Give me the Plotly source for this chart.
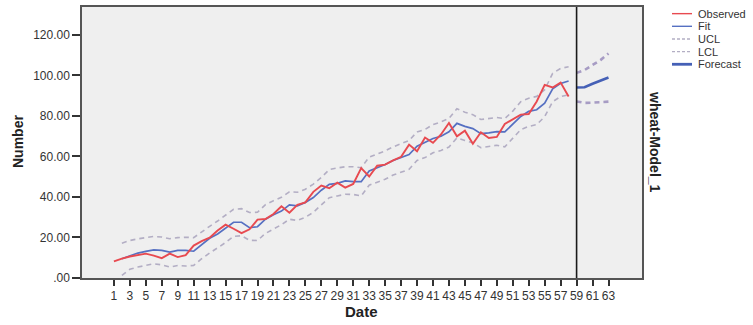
import plotly.graph_objects as go

# ---- data -------------------------------------------------------------
obs_dates = list(range(1, 59))
observed = [8.2, 9.6, 10.6, 11.2, 12.0, 11.0, 9.8, 12.0, 10.3, 11.3,
            16.0, 18.2, 19.9, 23.4, 26.3, 24.3, 22.1, 24.0, 28.8, 29.1,
            31.6, 35.4, 32.2, 36.1, 37.3, 42.5, 45.6, 44.3, 47.0, 44.6,
            46.4, 54.2, 50.1, 55.4, 55.9, 58.0, 59.8, 65.8, 62.5, 69.3,
            66.7, 70.8, 76.5, 69.9, 72.7, 66.2, 71.9, 69.1, 69.6, 76.0,
            78.1, 80.6, 80.9, 87.1, 95.3, 94.0, 96.4, 89.5]

fit_dates = list(range(2, 59))
fit = [9.5, 11.0, 12.3, 13.1, 13.9, 13.6, 12.8, 13.6, 13.6, 13.2,
       16.5, 19.6, 21.7, 24.7, 27.5, 27.5, 24.8, 25.3, 29.0, 31.2,
       33.0, 36.1, 35.6, 37.3, 39.7, 43.3, 46.2, 46.7, 47.9, 47.5,
       47.5, 52.8, 54.4, 56.0, 58.0, 59.3, 60.9, 65.0, 66.7, 68.8,
       69.9, 72.1, 76.3, 74.8, 73.7, 71.2, 71.6, 72.2, 72.1, 75.7,
       79.7, 82.2, 83.0, 86.3, 93.3, 96.0, 97.2]
ucl = [17.2, 18.5, 19.3, 19.9, 20.5, 20.2, 19.4, 19.9, 20.1, 19.9,
       22.8, 25.5, 28.1, 30.8, 33.9, 34.2, 32.3, 32.4, 36.2, 38.1,
       39.8, 42.5, 42.3, 43.8, 46.3, 49.6, 53.5, 54.3, 54.9, 54.9,
       54.4, 59.6, 61.1, 62.7, 64.7, 66.2, 67.8, 72.1, 73.3, 75.7,
       77.0, 78.7, 83.5, 81.8, 80.6, 78.2, 78.7, 79.2, 78.6, 82.3,
       87.0, 88.7, 89.6, 92.9, 101.0, 103.4, 104.2]
lcl = [1.3, 4.3, 5.4, 6.1, 7.0, 6.5, 5.4, 6.2, 5.9, 6.2,
       9.5, 12.3, 14.7, 17.5, 20.6, 20.8, 18.6, 18.5, 22.0, 24.2,
       26.3, 29.0, 28.4, 30.0, 32.4, 36.1, 39.6, 40.5, 41.3, 41.2,
       40.5, 45.8, 47.2, 48.7, 50.8, 52.1, 53.6, 58.0, 59.4, 61.8,
       62.9, 64.6, 69.1, 67.8, 66.7, 64.3, 65.0, 65.5, 64.7, 68.8,
       73.2, 74.8, 75.7, 79.6, 87.0, 89.5, 90.4]

fc_dates = [59, 60, 61, 62, 63]
forecast = [94.0, 94.1, 95.8, 97.3, 98.9]
fc_ucl = [101.2, 102.6, 105.1, 107.5, 110.8]
fc_lcl = [87.1, 86.4, 86.5, 86.6, 87.0]

y_ticks = [0, 20, 40, 60, 80, 100, 120]
y_tick_labels = [".00", "20.00", "40.00", "60.00", "80.00", "100.00", "120.00"]
x_ticks = list(range(1, 64, 2))

# ---- styles -----------------------------------------------------------
RED = "#e84a50"
BLUE = "#5670c2"
FC_BLUE = "#4560b6"
CL_GRAY = "#b3aec4"
FC_CL = "#a79cc4"
FONT = "Liberation Sans, Arial, sans-serif"

W, H = 753, 325
L, R, T, B = 82, 642, 5, 278      # plot box in pixels


def px(xp):
    return (xp - L) / (R - L)


def py(yp):
    return (B - yp) / (B - T)


fig = go.Figure()
fig.add_trace(go.Scatter(x=fit_dates, y=ucl, mode="lines", name="UCL",
                         line=dict(color=CL_GRAY, width=1.6, dash="5px,4px")))
fig.add_trace(go.Scatter(x=fit_dates, y=lcl, mode="lines", name="LCL",
                         line=dict(color=CL_GRAY, width=1.6, dash="5px,4px")))
fig.add_trace(go.Scatter(x=fc_dates, y=fc_ucl, mode="lines", name="UCL",
                         line=dict(color=FC_CL, width=2.6, dash="5px,4px")))
fig.add_trace(go.Scatter(x=fc_dates, y=fc_lcl, mode="lines", name="LCL",
                         line=dict(color=FC_CL, width=2.6, dash="5px,4px")))
fig.add_trace(go.Scatter(x=fit_dates, y=fit, mode="lines", name="Fit",
                         line=dict(color=BLUE, width=1.7)))
fig.add_trace(go.Scatter(x=obs_dates, y=observed, mode="lines", name="Observed",
                         line=dict(color=RED, width=1.9)))
fig.add_trace(go.Scatter(x=fc_dates, y=forecast, mode="lines", name="Forecast",
                         line=dict(color=FC_BLUE, width=2.6)))

# forecast origin marker
fig.add_shape(type="line", xref="x", yref="paper", x0=fc_dates[0], x1=fc_dates[0],
              y0=0, y1=1, line=dict(color="#1a1a1a", width=1.6))

# legend block
legend_items = [
    ("Observed", RED, 1.4, "solid"),
    ("Fit", BLUE, 1.4, "solid"),
    ("UCL", CL_GRAY, 1.4, "3px,2px"),
    ("LCL", CL_GRAY, 1.4, "3px,2px"),
    ("Forecast", FC_BLUE, 2.8, "solid"),
]
annotations = []
for i, (label, color, width, dash) in enumerate(legend_items):
    yy = 11.7 + i * 12.75
    fig.add_shape(type="line", xref="paper", yref="paper",
                  x0=px(672), x1=px(692), y0=py(yy), y1=py(yy),
                  line=dict(color=color, width=width, dash=dash))
    annotations.append(dict(text=label, xref="paper", yref="paper",
                            x=px(696), y=py(yy), xanchor="left", yanchor="middle",
                            showarrow=False, font=dict(size=11, color="#333333")))

annotations.append(dict(text="<b>wheat-Model_1</b>", xref="paper", yref="paper",
                        x=px(655), y=py(141), xanchor="center", yanchor="middle",
                        textangle=90, showarrow=False,
                        font=dict(size=14, color="#222222")))
annotations.append(dict(text="<b>Number</b>", xref="paper", yref="paper",
                        x=px(18), y=py(141), xanchor="center", yanchor="middle",
                        textangle=-90, showarrow=False,
                        font=dict(size=14, color="#222222")))
annotations.append(dict(text="<b>Date</b>", xref="paper", yref="paper",
                        x=px(361), y=py(312), xanchor="center", yanchor="middle",
                        showarrow=False, font=dict(size=15, color="#222222")))

fig.update_layout(
    width=W, height=H,
    margin=dict(l=L, r=W - R, t=T, b=H - B, pad=0),
    paper_bgcolor="white",
    plot_bgcolor="#efefef",
    showlegend=False,
    font=dict(family=FONT, size=12, color="#333333"),
    annotations=annotations,
)
fig.update_xaxes(range=[-3, 67.2], tickmode="array", tickvals=x_ticks,
                 ticks="outside", ticklen=6, tickwidth=1.5, tickcolor="#333333",
                 showgrid=False, zeroline=False, showline=True, mirror=True,
                 linecolor="#555555", linewidth=1.5,
                 tickfont=dict(size=12, color="#333333"))
fig.update_yaxes(range=[0, 133.7], tickmode="array", tickvals=y_ticks,
                 ticktext=y_tick_labels,
                 ticks="outside", ticklen=8, tickwidth=1.5, tickcolor="#333333",
                 showgrid=False, zeroline=False, showline=True, mirror=True,
                 linecolor="#555555", linewidth=1.5,
                 tickfont=dict(size=12, color="#333333"))

fig.write_html("out.html")
